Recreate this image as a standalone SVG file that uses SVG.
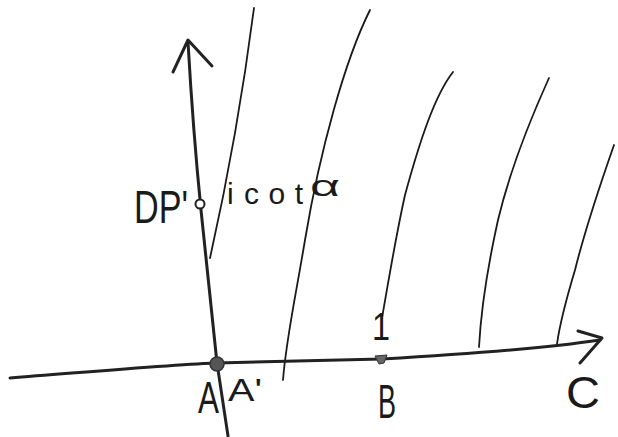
<svg xmlns="http://www.w3.org/2000/svg" width="618" height="437" viewBox="0 0 618 437">
<style>
.ax{fill:none;stroke:#222;stroke-width:3;stroke-linecap:round;stroke-linejoin:round}
.cv{fill:none;stroke:#1a1a1a;stroke-width:1.8;stroke-linecap:round}
.lb{font-family:"Liberation Sans","DejaVu Sans",sans-serif;fill:#1a1a1a;font-weight:normal}
</style>
<rect width="618" height="437" fill="#fff"/>
<g id="curves">
<path class="cv" d="M254,8 C246,70 232,160 210,258"/>
<path class="cv" d="M370,10 C345,60 320,150 305,240 C295,300 286,340 283,380"/>
<path class="cv" d="M453,72 C435,95 420,140 405,195 C395,240 387,290 382,318"/>
<path class="cv" d="M549,78 C530,120 510,170 498,220 C488,265 481,310 479,347"/>
<path class="cv" d="M614,145 C600,185 585,230 575,270 C566,300 560,322 557,344"/>
</g>
<g id="axes">
<path class="ax" d="M10,378 C100,371 180,364 217,363 L382,359 C450,355 540,349 600,340"/>
<path class="ax" d="M578,331 L602,338 L580,363"/>
<path class="ax" d="M188,42 Q193,130 201,210 L217,363 L228,436"/>
<path class="ax" d="M173,72 L188,40 L212,66"/>
</g>
<g id="points">
<circle cx="217" cy="364" r="7" fill="#555" stroke="#333" stroke-width="1.5"/>
<circle cx="200" cy="204" r="4.5" fill="#fff" stroke="#222" stroke-width="2"/>
<path d="M375,356 L387,355 L384,363 L379,364 Z" fill="#666" stroke="#333" stroke-width="1"/>
</g>
<g id="labels">
<text class="lb" x="134" y="223" font-size="46" textLength="54" lengthAdjust="spacingAndGlyphs">DP'</text>
<text class="lb" y="204" font-size="30"><tspan x="227">i</tspan><tspan x="244" textLength="59" lengthAdjust="spacing">cot</tspan></text>
<text class="lb" x="310" y="196" font-size="30" textLength="30" lengthAdjust="spacingAndGlyphs">α</text>
<text class="lb" x="198" y="413" font-size="44" textLength="21" lengthAdjust="spacingAndGlyphs">A</text>
<text class="lb" x="228" y="401" font-size="32" textLength="34" lengthAdjust="spacingAndGlyphs">A'</text>
<text class="lb" x="372" y="340" font-size="38" textLength="18" lengthAdjust="spacingAndGlyphs">1</text>
<text class="lb" x="378" y="418" font-size="48" textLength="18" lengthAdjust="spacingAndGlyphs">B</text>
<text class="lb" x="566" y="408" font-size="44" textLength="34" lengthAdjust="spacingAndGlyphs">C</text>
</g>
</svg>
